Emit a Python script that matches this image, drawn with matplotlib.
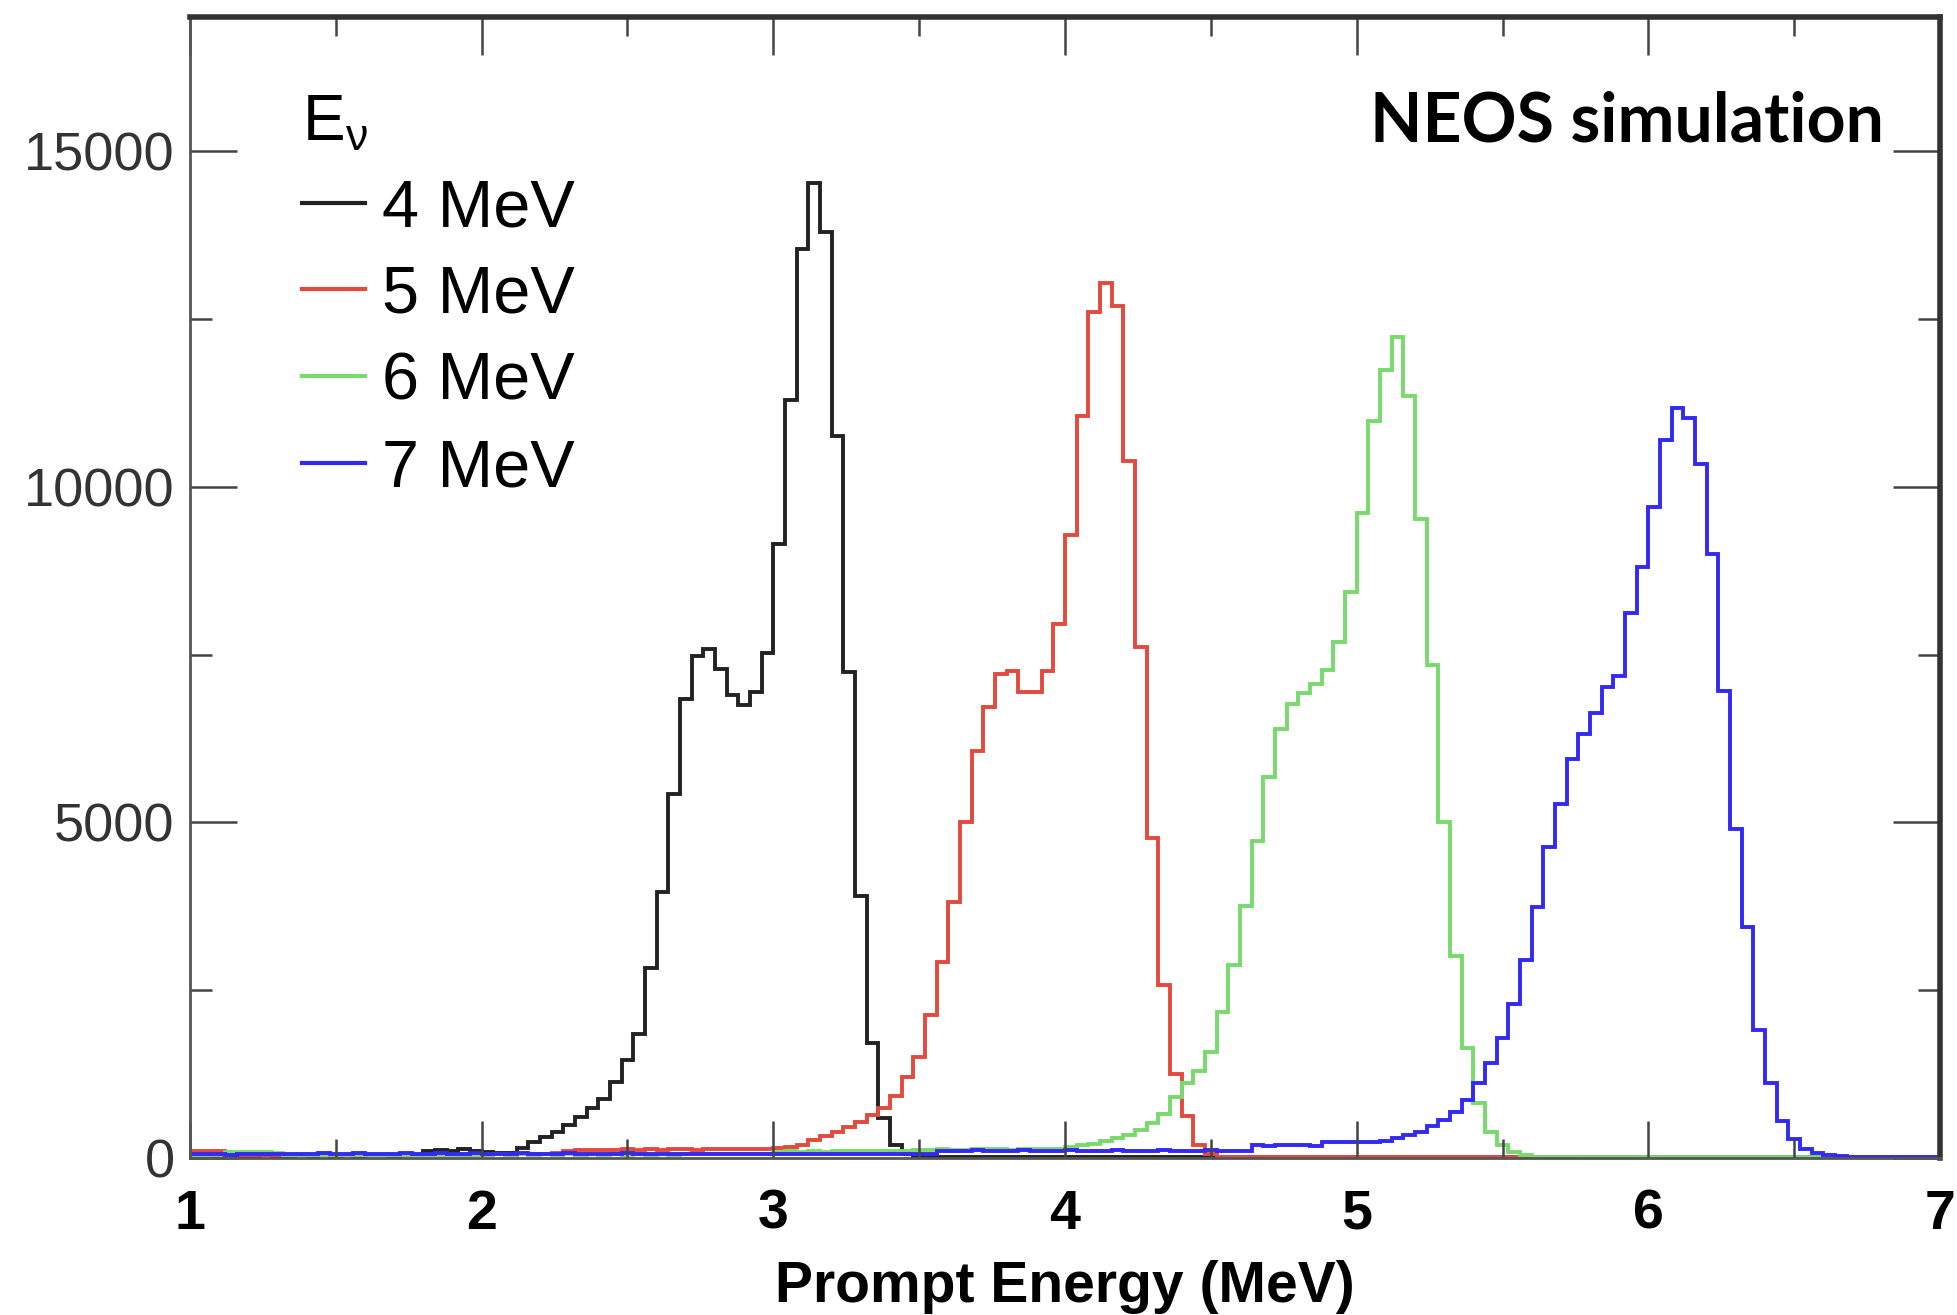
import matplotlib
matplotlib.use("Agg")
import matplotlib.pyplot as plt
from matplotlib.ticker import MultipleLocator
import numpy as np

# bins of 0.04 MeV from 1 to 7 MeV
edges = np.linspace(1.0, 7.0, 151)

# counts per bin, rows of 10 bins (0.4 MeV each)
counts4 = [
	40, 40, 35, 40, 30, 35, 40, 30, 35, 40,
	35, 40, 30, 40, 35, 45, 40, 35, 45, 50,
	100, 120, 110, 130, 100, 90, 80, 70, 144, 243,
	318, 392, 492, 616, 740, 880, 1130, 1455, 1852, 2831,
	3957, 5425, 6844, 7480, 7578, 7284, 6893, 6746, 6942, 7529,
	9144, 11297, 13548, 14527, 13793, 10759, 7235, 3908, 1706, 600,
	200, 60, 20, 15, 10, 10, 10, 10, 10, 10,
	10, 10, 10, 10, 10, 10, 10, 10, 10, 10,
	10, 10, 10, 10, 10, 10, 10, 10, 10, 10,
	10, 10, 10, 10, 10, 10, 10, 10, 10, 10,
	10, 10, 10, 10, 10, 10, 10, 10, 10, 10,
	10, 10, 10, 10, 10, 10, 10, 10, 10, 10,
	10, 10, 10, 10, 10, 10, 10, 10, 10, 10,
	10, 10, 10, 10, 10, 10, 10, 10, 10, 10,
	10, 10, 10, 10, 10, 10, 10, 10, 10, 10,
]
counts5 = [
	100, 100, 100, 50, 45, 40, 45, 50, 40, 45,
	50, 40, 45, 50, 45, 40, 50, 45, 40, 50,
	45, 50, 40, 45, 50, 50, 55, 50, 60, 55,
	60, 70, 110, 120, 115, 125, 120, 130, 125, 130,
	120, 135, 130, 125, 130, 135, 140, 130, 135, 140,
	150, 160, 194, 268, 328, 392, 467, 541, 640, 740,
	930, 1203, 1512, 2130, 2925, 3809, 5001, 6061, 6724, 7210,
	7250, 6945, 6945, 7254, 7960, 9286, 11053, 12600, 13040, 12687,
	10390, 7607, 4770, 2580, 1250, 620, 200, 60, 20, 15,
	10, 10, 10, 10, 10, 10, 10, 10, 10, 10,
	10, 10, 10, 10, 10, 10, 10, 10, 10, 10,
	10, 10, 10, 10, 10, 10, 10, 10, 10, 5,
	5, 5, 5, 5, 5, 5, 5, 5, 5, 5,
	5, 5, 5, 5, 5, 5, 5, 5, 5, 5,
	5, 5, 5, 5, 5, 5, 5, 5, 5, 5,
]
counts6 = [
	40, 40, 40, 90, 90, 90, 90, 80, 40, 45,
	40, 45, 40, 45, 40, 45, 40, 45, 40, 45,
	40, 45, 40, 45, 40, 50, 55, 50, 55, 50,
	55, 50, 55, 50, 55, 50, 55, 50, 55, 50,
	55, 50, 55, 60, 55, 60, 55, 60, 55, 60,
	90, 100, 95, 100, 95, 105, 100, 110, 105, 110,
	105, 110, 115, 120, 140, 125, 120, 130, 140, 135,
	125, 130, 130, 135, 140, 160, 190, 210, 260, 300,
	350, 420, 520, 663, 914, 1123, 1290, 1583, 2168, 2878,
	3755, 4717, 5678, 6388, 6764, 6931, 7056, 7265, 7683, 8435,
	9605, 10984, 11736, 12238, 11360, 9522, 7349, 5009, 3003, 1640,
	820, 390, 190, 95, 45, 15, 10, 10, 10, 10,
	10, 10, 10, 10, 10, 10, 10, 10, 10, 10,
	10, 10, 10, 10, 10, 10, 10, 10, 10, 10,
	10, 10, 10, 10, 10, 10, 10, 10, 10, 10,
]
counts7 = [
	60, 55, 60, 50, 55, 60, 65, 60, 55, 60,
	65, 70, 60, 65, 70, 60, 65, 60, 70, 65,
	60, 70, 65, 60, 70, 65, 60, 65, 70, 60,
	65, 60, 70, 65, 60, 65, 60, 70, 65, 60,
	60, 65, 60, 65, 60, 65, 60, 65, 60, 65,
	60, 65, 60, 65, 60, 65, 60, 65, 60, 65,
	60, 65, 60, 65, 110, 105, 110, 115, 110, 105,
	110, 115, 110, 105, 110, 115, 110, 105, 110, 115,
	110, 105, 110, 115, 110, 105, 110, 115, 110, 105,
	110, 190, 185, 190, 195, 190, 185, 240, 235, 240,
	245, 240, 260, 300, 340, 390, 470, 566, 690, 870,
	1120, 1420, 1790, 2296, 2945, 3736, 4629, 5278, 5946, 6312,
	6637, 7023, 7184, 8118, 8807, 9700, 10696, 11180, 11018, 10341,
	9000, 6951, 4901, 3441, 1907, 1117, 545, 280, 140, 70,
	40, 25, 20, 20, 15, 10, 20, 15, 10, 10,
]

labels = ["4 MeV", "5 MeV", "6 MeV", "7 MeV"]
colors = ["#222222", "#e4493e", "#78da6c", "#3329f4"]

plt.rcParams["font.family"] = ["Liberation Sans", "DejaVu Sans"]
plt.rcParams["mathtext.fontset"] = "custom"
plt.rcParams["mathtext.rm"] = "Liberation Sans"
plt.rcParams["mathtext.it"] = "Liberation Sans"
plt.rcParams["mathtext.default"] = "regular"

fig = plt.figure(figsize=(19.57, 13.15), dpi=100)
ax = fig.add_axes([190 / 1957, 1 - 1158 / 1315, 1750 / 1957, 1141 / 1315])

for vals, lab, col in zip([counts4, counts5, counts6, counts7], labels, colors):
	ax.stairs(vals, edges, color=col, lw=2.8, label=lab)

ax.set_xlim(1, 7)
ax.set_ylim(0, 17000)

ax.xaxis.set_major_locator(MultipleLocator(1))
ax.xaxis.set_minor_locator(MultipleLocator(0.5))
ax.yaxis.set_major_locator(MultipleLocator(5000))
ax.yaxis.set_minor_locator(MultipleLocator(2500))

ax.tick_params(axis="both", which="both", direction="in", top=True, right=True, color="#444444", width=1.8)
ax.tick_params(axis="x", which="major", length=27, pad=22, labelsize=40, labelcolor="black")
ax.tick_params(axis="x", which="minor", length=14)
ax.tick_params(axis="y", which="major", length=34, pad=11, labelsize=39, labelcolor="#333333")
ax.tick_params(axis="y", which="minor", length=16)
for lab in ax.get_xticklabels():
	lab.set_fontweight("bold")

for side in ["left", "bottom"]:
	ax.spines[side].set_linewidth(2)
	ax.spines[side].set_color("#555555")
for side in ["top", "right"]:
	ax.spines[side].set_linewidth(4)
	ax.spines[side].set_color("#333333")

ax.set_xlabel("Prompt Energy (MeV)", fontsize=41, fontweight="bold")
ax.xaxis.set_label_coords(0.5, -0.089)

ax.text(0.968, 0.891, "NEOS simulation", transform=ax.transAxes, ha="right", va="baseline",
	fontsize=49, fontweight="bold", family=["Lato", "DejaVu Sans"])

leg = ax.legend(title="E$_{\\nu}$", loc="upper left", bbox_to_anchor=(0.064, 0.933), frameon=False,
	fontsize=48, title_fontsize=46, handlelength=0.95, handletextpad=0.25, labelspacing=0.37,
	borderpad=0, borderaxespad=0, alignment="left")
for line in leg.get_lines():
	line.set_linewidth(3)

fig.savefig("out.png", dpi=100)
